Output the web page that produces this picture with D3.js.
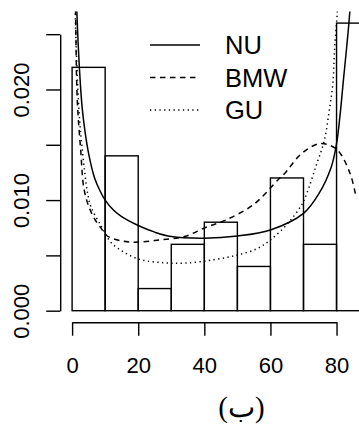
<!DOCTYPE html>
<html>
<head>
<meta charset="utf-8">
<script src="https://cdn.jsdelivr.net/npm/d3@7"></script>
<style>
  body { margin: 0; background: #fff; }
  svg { display: block; }
</style>
</head>
<body>
<div class="container"></div>
<script>
// histogram: class breaks and densities
const breaks = [0, 10, 20, 30, 40, 50, 60, 70, 80, 90]
const density = [0.022, 0.014, 0.002, 0.006, 0.008, 0.004, 0.012, 0.006, 0.026]

// fitted curves
const nuX = [1.2, 1.44, 2.2, 3, 3.86, 5, 6.8, 8.5, 10, 12.5, 15, 20, 25, 30, 40, 50, 60, 70, 74.7, 78.4, 80, 81, 82, 84, 84.4]
const nuY = [0.030, 0.027, 0.022, 0.0185, 0.0163, 0.0142, 0.0120, 0.0108, 0.0100, 0.0091, 0.0085, 0.0077, 0.0071, 0.0067, 0.00655, 0.00675, 0.0073, 0.0088, 0.0106, 0.0130, 0.0151, 0.0175, 0.0206, 0.027, 0.030]

const bmwX = [0.9, 1.05, 1.57, 2.6, 3.6, 5.2, 7, 8.9, 10.4, 15.1, 19.8, 26.6, 34, 40.2, 46.5, 54.9, 62.2, 64.3, 69.4, 75, 80, 84.1, 85.8]
const bmwY = [0.029, 0.0269, 0.019, 0.0145, 0.011, 0.0093, 0.0082, 0.0074, 0.0068, 0.0063, 0.0062, 0.0064, 0.0067, 0.0075, 0.0082, 0.0096, 0.0118, 0.0124, 0.0142, 0.0151, 0.0146, 0.0124, 0.0104]

const guX = [0.95, 1.0, 2.1, 3.1, 4.7, 5.7, 8.9, 12, 19.8, 27.7, 34, 42.3, 49.6, 55.9, 60, 65.3, 69.5, 71, 73.7, 76.3, 77.8, 78.9, 79.4, 80.2, 80.5]
const guY = [0.029, 0.0263, 0.018, 0.0145, 0.0106, 0.0094, 0.0076, 0.0061, 0.0047, 0.00434, 0.0043, 0.00458, 0.0050, 0.0056, 0.0064, 0.0079, 0.0096, 0.0106, 0.0130, 0.0154, 0.0181, 0.0206, 0.0236, 0.0269, 0.029]

const xTicks = [0, 20, 40, 60, 80]
const yTicks = [0, 0.005, 0.010, 0.015, 0.020, 0.025]
const legendNames = ['NU', 'BMW', 'GU']
const xLabel = '(ب)'

const w = 359
const h = 426
const font = 'Liberation Sans, Arial, Helvetica, sans-serif'
const dashes = [null, '5.5,4.5', '1.3,3.4']

const svg = d3.select('.container')
  .append('svg')
  .attr('width', w)
  .attr('height', h)

// R style: 4% padding around xlim = c(0, 90), ylim = c(0, 0.026)
const x = d3.scaleLinear().domain([-3.6, 93.6]).range([60.2, 381.5])
const y = d3.scaleLinear().domain([-0.00104, 0.02704]).range([322.2, 11.6])

svg.append('clipPath')
  .attr('id', 'plot')
  .append('rect')
  .attr('x', x(-3.6))
  .attr('y', y(0.02704))
  .attr('width', x(93.6) - x(-3.6))
  .attr('height', y(-0.00104) - y(0.02704))

const bars = breaks.slice(0, -1).map((b, i) => ({ x0: b, x1: breaks[i + 1], d: density[i] }))

svg.append('g')
  .selectAll('rect')
  .data(bars)
  .enter()
  .append('rect')
  .attr('x', d => x(d.x0))
  .attr('y', d => y(d.d))
  .attr('width', d => x(d.x1) - x(d.x0))
  .attr('height', d => y(0) - y(d.d))
  .attr('fill', 'none')
  .attr('stroke', '#000')
  .attr('stroke-width', 1.4)

const curves = [
  nuX.map((v, i) => [v, nuY[i]]),
  bmwX.map((v, i) => [v, bmwY[i]]),
  guX.map((v, i) => [v, guY[i]])
]

const line = d3.line()
  .x(d => x(d[0]))
  .y(d => y(d[1]))
  .curve(d3.curveCatmullRom.alpha(0.5))

svg.append('g')
  .attr('clip-path', 'url(#plot)')
  .selectAll('path')
  .data(curves)
  .enter()
  .append('path')
  .attr('d', line)
  .attr('fill', 'none')
  .attr('stroke', '#000')
  .attr('stroke-width', 1.5)
  .attr('stroke-dasharray', (d, i) => dashes[i])

// axes only span the tick range, like base R
const xa = d3.scaleLinear().domain([0, 80]).range([x(0), x(80)])
const xAxis = d3.axisBottom(xa)
  .tickValues(xTicks)
  .tickSize(13.5)
  .tickSizeOuter(0)
  .tickFormat(d3.format('d'))

const gx = svg.append('g')
  .attr('transform', `translate(0, ${y(-0.00104)})`)
  .call(xAxis)
gx.selectAll('text')
  .attr('y', 50.5)
  .attr('dy', 0)
  .attr('font-size', 22)
  .attr('font-family', font)
  .attr('fill', '#000')

const ya = d3.scaleLinear().domain([0, 0.025]).range([y(0), y(0.025)])
const yAxis = d3.axisLeft(ya)
  .tickValues(yTicks)
  .tickSize(14)
  .tickSizeOuter(0)
  .tickFormat(d => Math.round(d * 1000) % 10 === 0 ? d3.format('.3f')(d) : '')

const gy = svg.append('g')
  .attr('transform', `translate(${x(-3.6)}, 0)`)
  .call(yAxis)
gy.selectAll('text')
  .attr('transform', 'rotate(-90)')
  .attr('x', 0)
  .attr('y', -31.5)
  .attr('dy', 0)
  .attr('text-anchor', 'middle')
  .attr('font-size', 22)
  .attr('font-family', font)
  .attr('fill', '#000')

svg.selectAll('.domain, .tick line')
  .attr('stroke', '#000')
  .attr('stroke-width', 1.4)

// legend
const lg = svg.append('g')
  .selectAll('g')
  .data(legendNames)
  .enter()
  .append('g')
  .attr('transform', (d, i) => `translate(0, ${45 + i * 32.5})`)

lg.append('line')
  .attr('x1', 150)
  .attr('x2', 200)
  .attr('stroke', '#000')
  .attr('stroke-width', 1.5)
  .attr('stroke-dasharray', (d, i) => dashes[i])

lg.append('text')
  .text(d => d)
  .attr('x', 225)
  .attr('y', 9.3)
  .attr('font-size', 25.5)
  .attr('font-family', font)

svg.append('text')
  .text(xLabel)
  .attr('x', 241.5)
  .attr('y', 417)
  .attr('text-anchor', 'middle')
  .attr('font-size', 29)
  .attr('font-family', 'Liberation Serif, Times New Roman, serif')
</script>
</body>
</html>
